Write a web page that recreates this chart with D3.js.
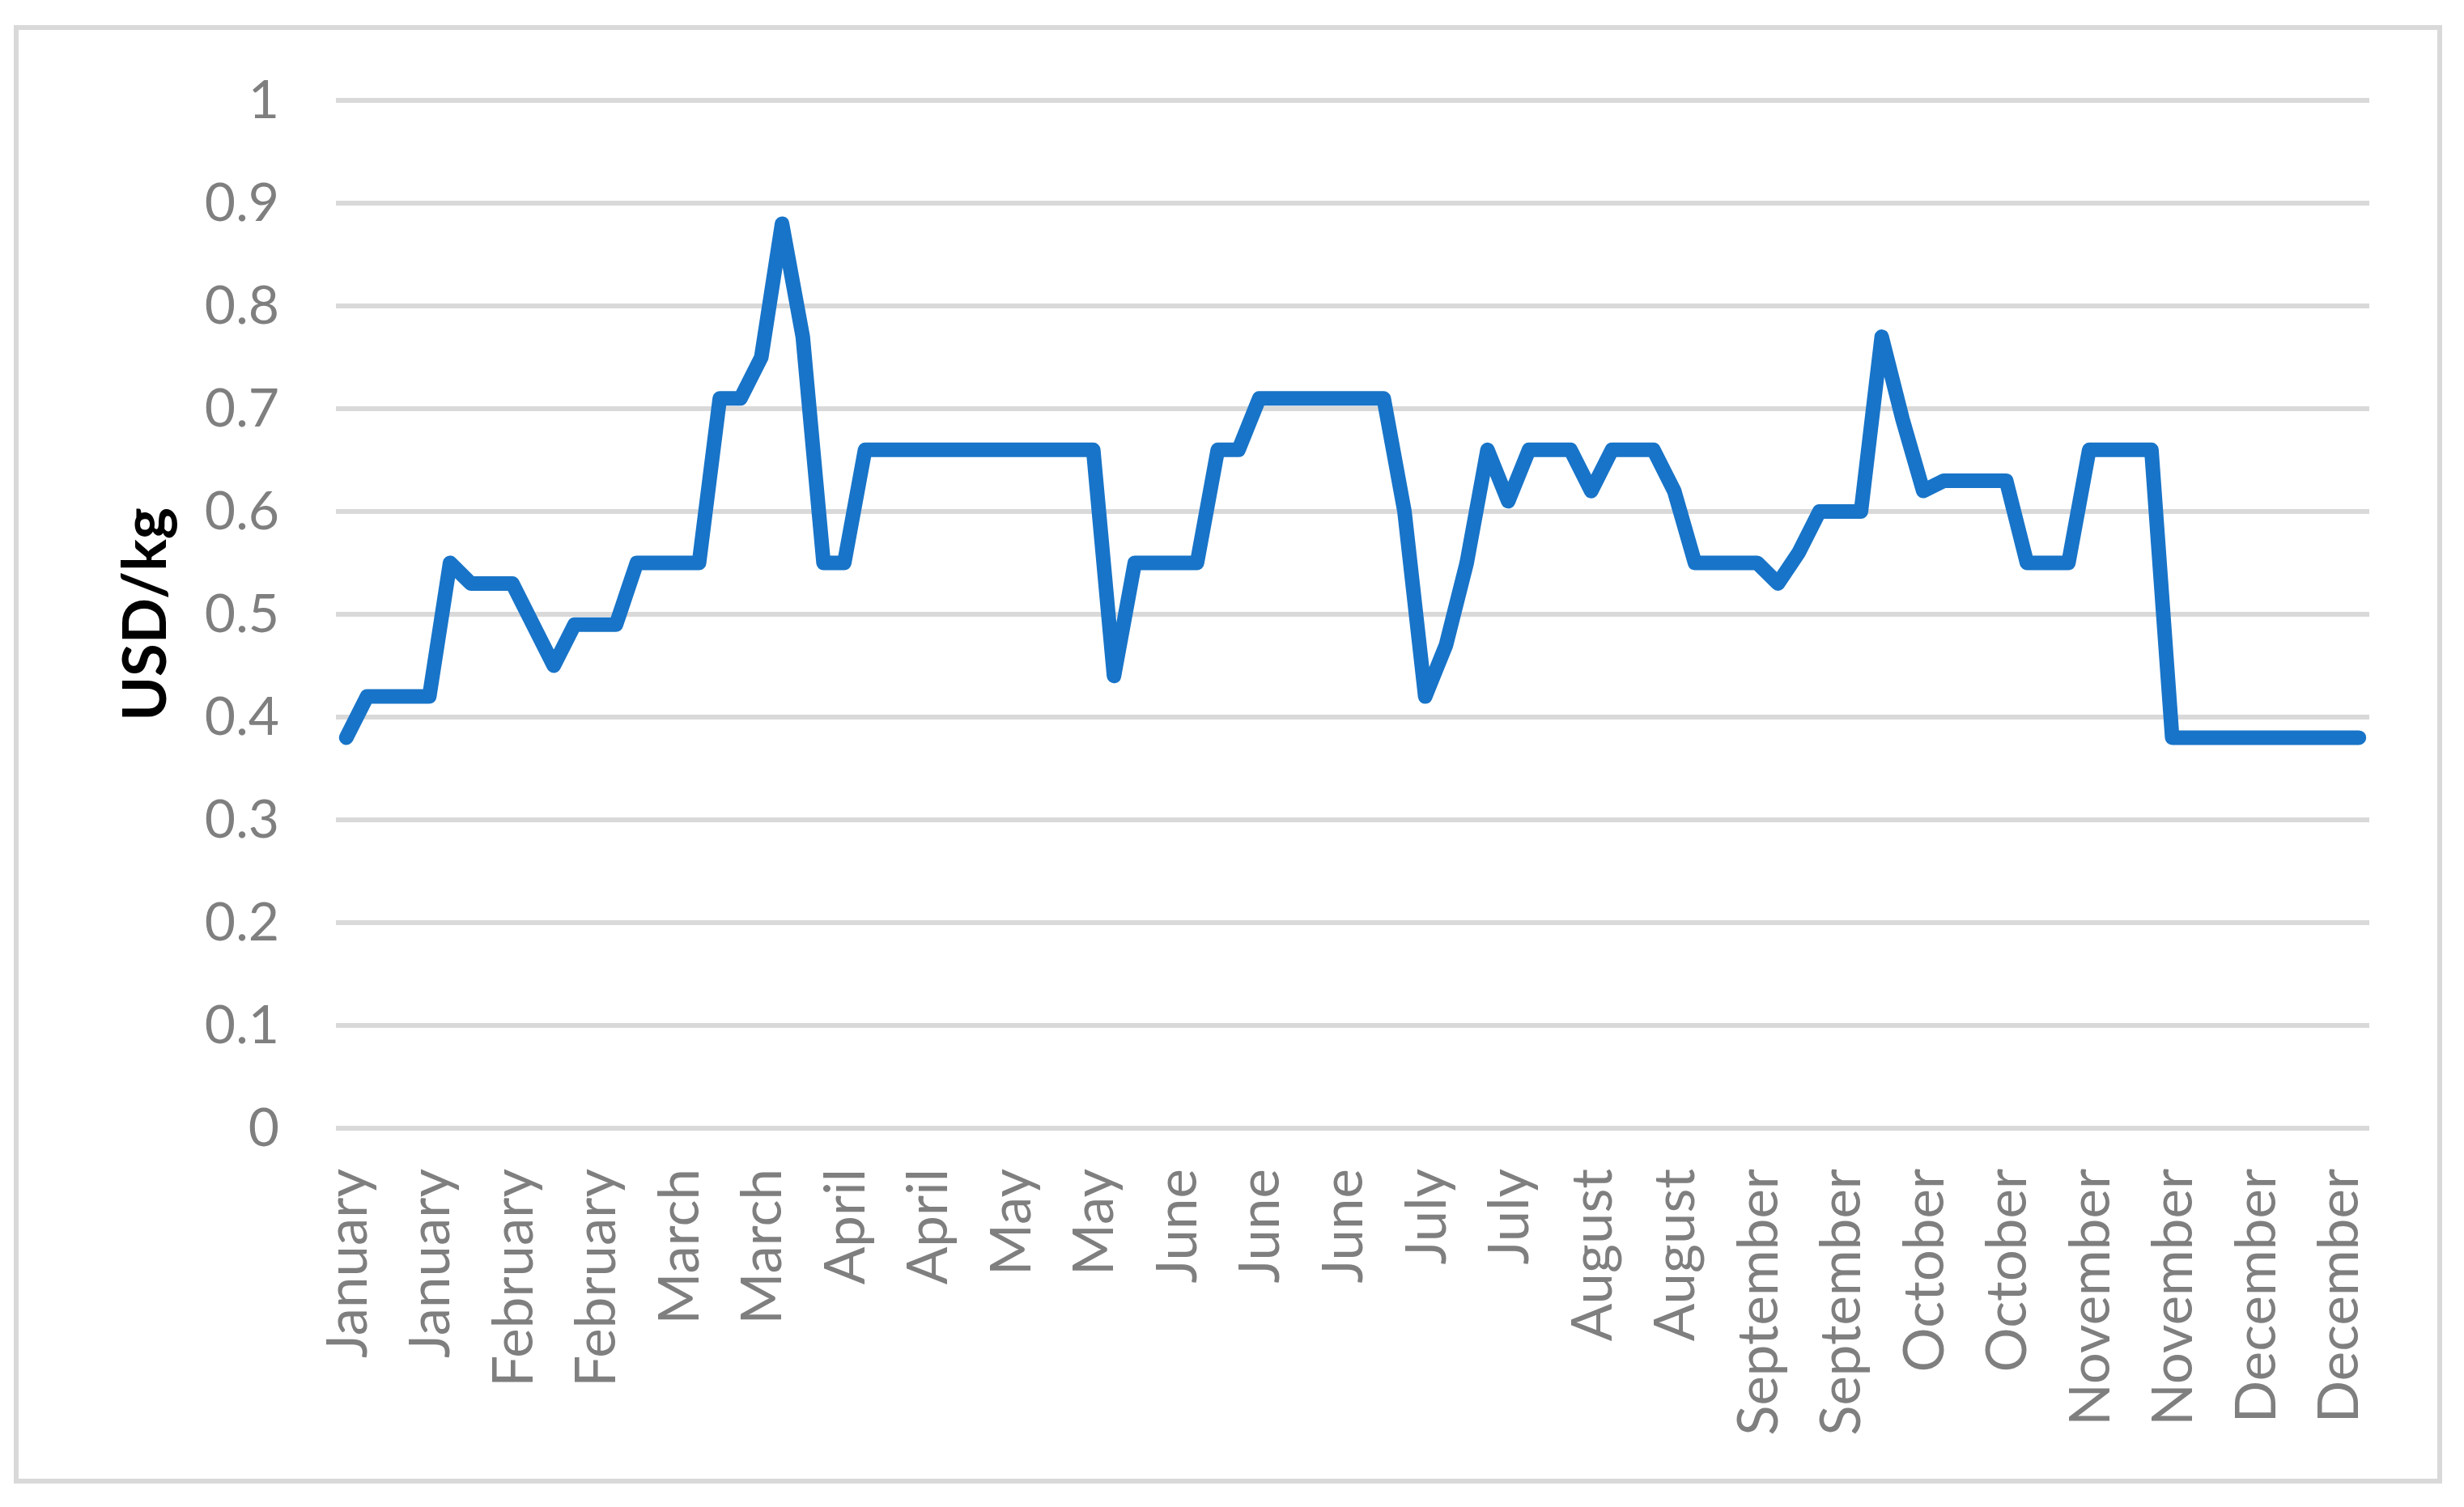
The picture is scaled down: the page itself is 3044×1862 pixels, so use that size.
<!DOCTYPE html>
<html><head><meta charset="utf-8">
<script src="https://cdn.jsdelivr.net/npm/d3@7/dist/d3.min.js"></script>
<style>
body{margin:0;background:#fff}
svg{display:block}
</style>
</head><body>
<svg id="chart" width="3044" height="1862"></svg>
<script>
// ---- data ----
const tickLabels = ["January","January","February","February","March","March","April","April","May","May","June","June","June","July","July","August","August","September","September","October","October","November","November","December","December"];
const prices = [
  0.38, 0.42, 0.42, 0.42, 0.42, 0.55, 0.53, 0.53, 0.53, 0.49,
  0.45, 0.49, 0.49, 0.49, 0.55, 0.55, 0.55, 0.55, 0.71, 0.71,
  0.75, 0.88, 0.77, 0.55, 0.55, 0.66, 0.66, 0.66, 0.66, 0.66,
  0.66, 0.66, 0.66, 0.66, 0.66, 0.66, 0.66, 0.44, 0.55, 0.55,
  0.55, 0.55, 0.66, 0.66, 0.71, 0.71, 0.71, 0.71, 0.71, 0.71,
  0.71, 0.60, 0.42, 0.47, 0.55, 0.66, 0.61, 0.66, 0.66, 0.66,
  0.62, 0.66, 0.66, 0.66, 0.62, 0.55, 0.55, 0.55, 0.55, 0.53,
  0.56, 0.60, 0.60, 0.60, 0.77, 0.69, 0.62, 0.63, 0.63, 0.63,
  0.63, 0.55, 0.55, 0.55, 0.66, 0.66, 0.66, 0.66, 0.38, 0.38,
  0.38, 0.38, 0.38, 0.38, 0.38, 0.38, 0.38, 0.38
];
const yTicks = [0, 0.1, 0.2, 0.3, 0.4, 0.5, 0.6, 0.7, 0.8, 0.9, 1];
const labelEvery = 4;
const yTitle = "USD/kg";

// ---- layout ----
const W = 3044, H = 1862;
const plot = {left: 415, right: 2927, top: 124, bottom: 1394};
const FONT = "Lato, 'Open Sans', sans-serif";

const svg = d3.select("#chart");
svg.append("rect").attr("width", W).attr("height", H).attr("fill", "#fff");

// outer border
svg.append("rect")
  .attr("x", 20).attr("y", 34).attr("width", 2994).attr("height", 1796)
  .attr("fill", "none").attr("stroke", "#d9d9d9").attr("stroke-width", 6);

const x = d3.scaleBand()
  .domain(d3.range(prices.length))
  .range([plot.left, plot.right])
  .paddingInner(0).paddingOuter(0);
const cx = i => x(i) + x.bandwidth() / 2;

const y = d3.scaleLinear().domain([0, 1]).range([plot.bottom, plot.top]);

// gridlines
svg.append("g").selectAll("line").data(yTicks).join("line")
  .attr("x1", plot.left).attr("x2", plot.right)
  .attr("y1", d => y(d)).attr("y2", d => y(d))
  .attr("stroke", "#d9d9d9").attr("stroke-width", 6);

// y axis
const yAxis = svg.append("g")
  .attr("transform", `translate(${plot.left},0)`)
  .call(d3.axisLeft(y).tickValues(yTicks).tickSize(0).tickPadding(70)
    .tickFormat(d => String(+d.toFixed(1))));
yAxis.select(".domain").remove();
yAxis.selectAll("text")
  .attr("fill", "#7f7f7f").style("font-family", FONT).style("font-size", "66px");

// x axis
const tickIdx = d3.range(0, prices.length, labelEvery).slice(0, tickLabels.length);
const xAxis = svg.append("g")
  .attr("transform", `translate(0,${plot.bottom})`)
  .call(d3.axisBottom(x).tickValues(tickIdx).tickSize(0)
    .tickFormat(d => tickLabels[d / labelEvery]));
xAxis.select(".domain").remove();
xAxis.selectAll("text")
  .attr("transform", "rotate(-90)")
  .attr("x", -50).attr("y", 0).attr("dy", "0.36em")
  .style("text-anchor", "end")
  .attr("fill", "#7f7f7f").style("font-family", FONT).style("font-size", "69px");

// y title
svg.append("text")
  .attr("transform", `translate(205,${(plot.top + plot.bottom) / 2}) rotate(-90)`)
  .attr("text-anchor", "middle")
  .style("font-family", FONT).style("font-size", "74px").style("font-weight", "bold")
  .attr("fill", "#000")
  .text(yTitle);

// line
const line = d3.line().x((d, i) => cx(i)).y(d => y(d));
svg.append("path")
  .datum(prices)
  .attr("d", line)
  .attr("fill", "none")
  .attr("stroke", "#1874c8")
  .attr("stroke-width", 18)
  .attr("stroke-linejoin", "round")
  .attr("stroke-linecap", "round");
</script>
</body></html>
